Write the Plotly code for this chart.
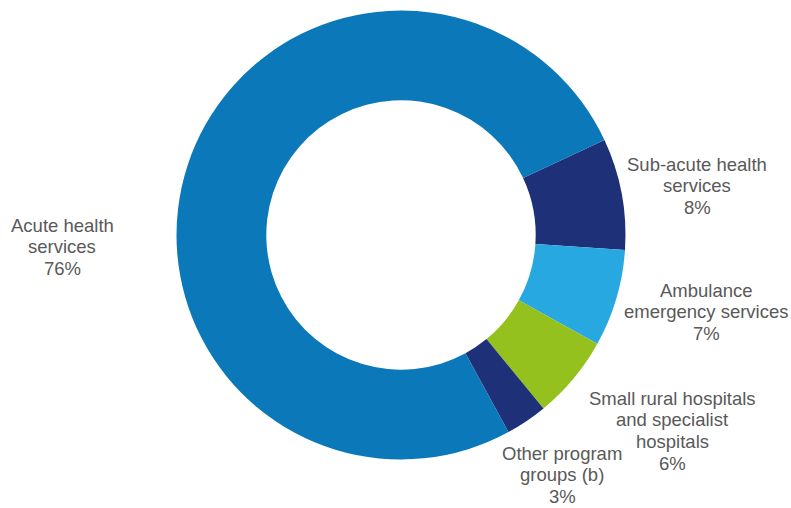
import plotly.graph_objects as go

categories = ["Sub-acute health|services", "Ambulance|emergency services",
              "Small rural hospitals|and specialist|hospitals",
              "Other program|groups (b)", "Acute health|services"]
values = [8, 7, 6, 3, 76]
colors = ["#1e3178", "#27a8e0", "#95c11f", "#1e3178", "#0a78b9"]

# label anchor: centre x and first-line y in pixels
label_pos = [(697, 164), (706, 290), (672, 398), (562, 453), (62, 225)]
LINE_H = 21.7

W, H = 791, 508
cx, cy, r = 401, 235, 224.5

fig = go.Figure(go.Pie(
    labels=[c.replace("|", " ") for c in categories], values=values, sort=False,
    direction="clockwise", rotation=65, hole=0.6, textinfo="none",
    hoverinfo="label+percent",
    marker=dict(colors=colors, line=dict(width=0)),
    domain=dict(x=[(cx - r) / W, (cx + r) / W], y=[1 - (cy + r) / H, 1 - (cy - r) / H]),
))

for cat, v, (x, y) in zip(categories, values, label_pos):
    lines = cat.split("|") + [f"{v}%"]
    for i, ln in enumerate(lines):
        fig.add_annotation(x=x / W, y=1 - (y + i * LINE_H) / H, xref="paper", yref="paper",
                           text=ln, showarrow=False, xanchor="center", yanchor="middle",
                           borderpad=0,
                           font=dict(family="Liberation Sans, Arial, sans-serif", size=18.5,
                                     color="#595959"))

fig.update_layout(width=W, height=H, margin=dict(l=0, r=0, t=0, b=0),
                  showlegend=False, paper_bgcolor="white", plot_bgcolor="white")
fig.write_html("out.html")
